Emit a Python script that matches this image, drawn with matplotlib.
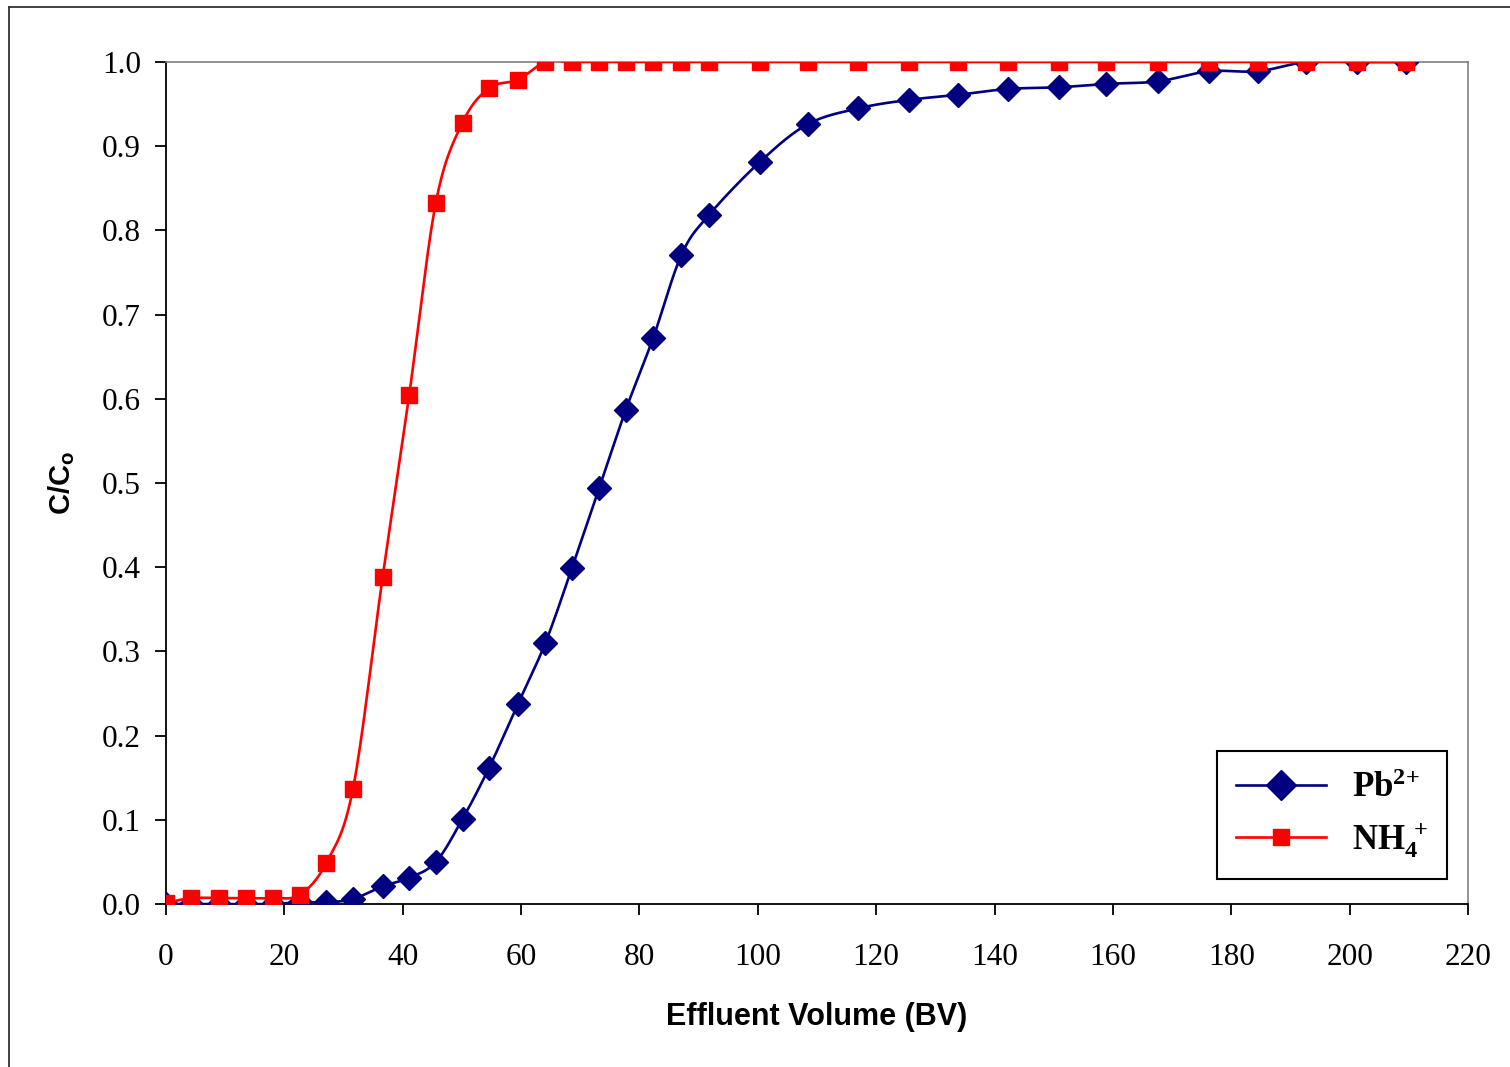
import numpy as np
import matplotlib
matplotlib.use("Agg")
import matplotlib.pyplot as plt
from matplotlib.lines import Line2D

plt.rcParams['mathtext.fontset'] = 'custom'
plt.rcParams['mathtext.bf'] = 'Liberation Serif:bold'
plt.rcParams['mathtext.rm'] = 'Liberation Serif'
plt.rcParams['mathtext.sf'] = 'Liberation Sans:bold'

# effluent volume (BV), shared by both ions
bv = [0, 4.2, 9.0, 13.6, 18.1, 22.6, 27.1, 31.6, 36.6, 41.1, 45.6, 50.1,
      54.6, 59.5, 64.1, 68.6, 73.2, 77.7, 82.3, 87.1, 91.7, 100.3, 108.4,
      117.0, 125.5, 133.8, 142.3, 150.9, 158.9, 167.6, 176.2, 184.5, 192.7,
      201.2, 209.6]

pb = [0.0, 0.0, 0.0, 0.0, 0.0, 0.002, 0.002, 0.006, 0.021, 0.031, 0.050,
      0.101, 0.162, 0.238, 0.310, 0.399, 0.494, 0.587, 0.672, 0.771, 0.818,
      0.881, 0.926, 0.945, 0.955, 0.961, 0.968, 0.970, 0.974, 0.977, 0.989,
      0.989, 1.0, 1.0, 1.0]

nh4 = [0.001, 0.007, 0.007, 0.007, 0.007, 0.011, 0.049, 0.137, 0.388, 0.605,
       0.833, 0.928, 0.969, 0.979, 1.0, 1.0, 1.0, 1.0, 1.0, 1.0, 1.0, 1.0,
       1.0, 1.0, 1.0, 1.0, 1.0, 1.0, 1.0, 1.0, 1.0, 1.0, 1.0, 1.0, 1.0]


def smooth(x, y, n=16):
    # Catmull-Rom curve through the points, like a spreadsheet "smoothed line"
    p = np.column_stack([x, y]).astype(float)
    p = np.vstack([p[0], p, p[-1]])
    t = np.linspace(0, 1, n, endpoint=False)
    out = []
    for i in range(1, len(p) - 2):
        p0, p1, p2, p3 = p[i - 1], p[i], p[i + 1], p[i + 2]
        for s in t:
            out.append(0.5 * ((2 * p1) + (-p0 + p2) * s
                              + (2 * p0 - 5 * p1 + 4 * p2 - p3) * s ** 2
                              + (-p0 + 3 * p1 - 3 * p2 + p3) * s ** 3))
    out.append(p[-2])
    out = np.array(out)
    return out[:, 0], out[:, 1]


fig = plt.figure(figsize=(15.1, 10.67), dpi=100)
ax = fig.add_axes([166 / 1510, 1 - 904 / 1067, 1302 / 1510, 842 / 1067])

blue = '#000080'
red = '#FF0000'

sx, sy = smooth(bv, pb)
ax.plot(sx, sy, color=blue, lw=1.9, zorder=3)
ax.plot(bv, pb, ls='none', marker='D', ms=12.5, color=blue, zorder=4)

sx, sy = smooth(bv, nh4)
ax.plot(sx, sy, color=red, lw=1.9, zorder=5)
ax.plot(bv, nh4, ls='none', marker='s', ms=11.5, color=red, zorder=6)

ax.set_xlim(0, 220)
ax.set_ylim(0, 1.0)
ax.set_xticks(np.arange(0, 221, 20))
ax.set_yticks(np.arange(0, 1.01, 0.1))
ax.set_yticklabels([f'{v:.1f}' for v in np.arange(0, 1.01, 0.1)])

for lab in ax.get_xticklabels() + ax.get_yticklabels():
    lab.set_fontfamily('Liberation Serif')
    lab.set_fontsize(22.5)
ax.tick_params(axis='x', direction='out', length=8, width=1.3, pad=20)
ax.tick_params(axis='y', direction='out', length=8, width=1.3, pad=10)

for side in ['top', 'right']:
    ax.spines[side].set_color('#808080')
    ax.spines[side].set_linewidth(1.2)
for side in ['left', 'bottom']:
    ax.spines[side].set_color('black')
    ax.spines[side].set_linewidth(1.3)

ax.set_xlabel('Effluent Volume (BV)', fontfamily='Liberation Sans',
              fontweight='bold', fontsize=22, labelpad=22)
ax.set_ylabel(r'$\mathsf{C/C_o}$', fontsize=21, labelpad=18)

handles = [Line2D([], [], color=blue, lw=1.9, marker='D', ms=15),
           Line2D([], [], color=red, lw=1.9, marker='s', ms=11.5)]
leg = ax.legend(handles, [r'$\mathbf{Pb^{2{+}}}$', r'$\mathbf{NH_4^{\,+}}$'],
                loc='lower right', bbox_to_anchor=(1447 / 1510, 1 - 879 / 1067),
                bbox_transform=fig.transFigure, borderaxespad=0,
                fontsize=25, fancybox=False, framealpha=1, edgecolor='black',
                handlelength=2.6, borderpad=0.55, labelspacing=0.45,
                handletextpad=0.75)
leg.get_frame().set_linewidth(1.5)

# outer chart frame
fig.add_artist(Line2D([9 / 1510, 9 / 1510], [0, 1 - 7 / 1067],
                      transform=fig.transFigure, color='#333333', lw=1.3))
fig.add_artist(Line2D([9 / 1510, 1], [1 - 7 / 1067, 1 - 7 / 1067],
                      transform=fig.transFigure, color='#333333', lw=1.3))

fig.savefig('out.png', dpi=100)
